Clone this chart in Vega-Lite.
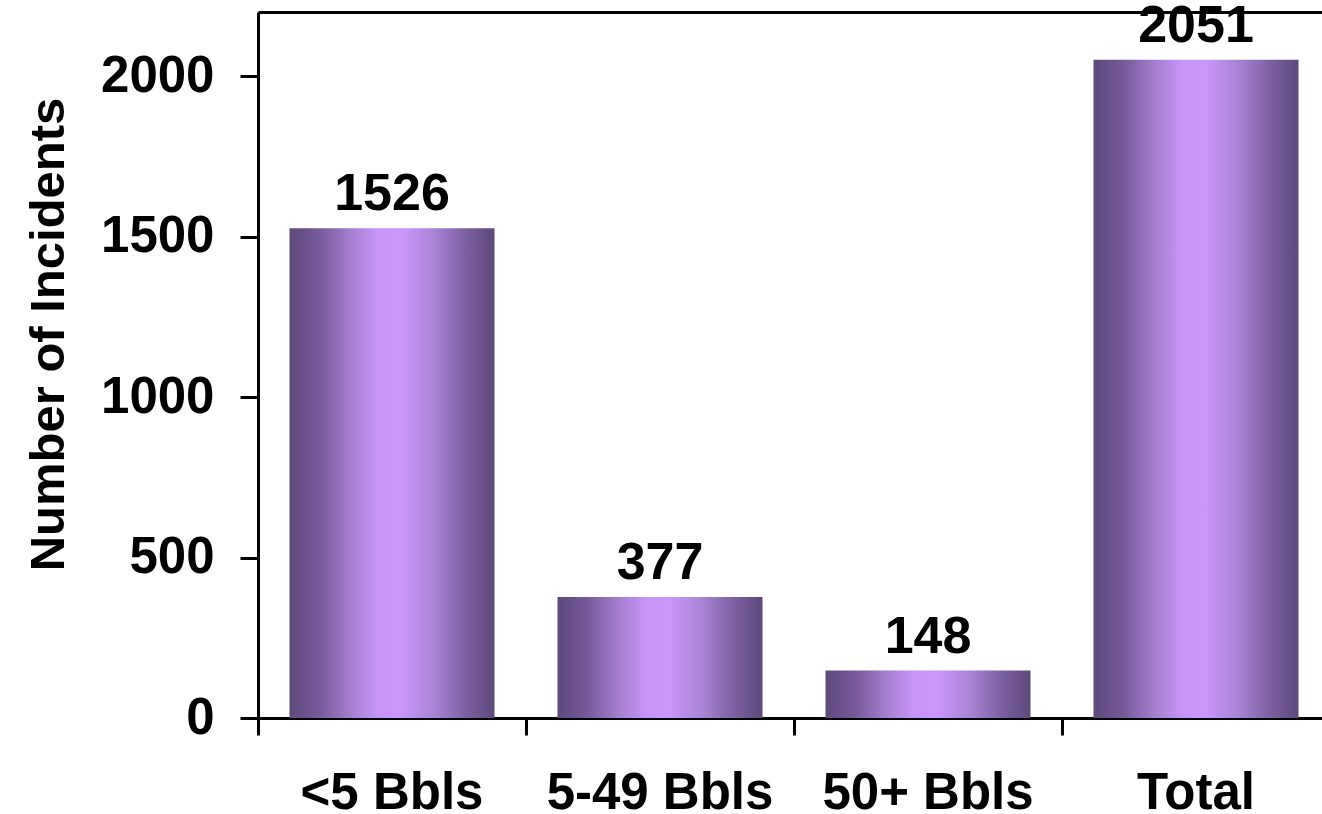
{
  "$schema": "https://vega.github.io/schema/vega-lite/v6.json",
  "autosize": {"type": "none"},
  "padding": {"left": 258, "top": 12, "right": 0, "bottom": 96},
  "width": 1064,
  "height": 706,
  "background": "white",
  "config": {
    "view": {"stroke": null},
    "font": "Liberation Sans",
    "axis": {"labelFont": "Liberation Sans", "titleFont": "Liberation Sans"}
  },
  "data": {
    "values": [
      {"category": "<5 Bbls", "incidents": 1526},
      {"category": "5-49 Bbls", "incidents": 377},
      {"category": "50+ Bbls", "incidents": 148},
      {"category": "Total", "incidents": 2051}
    ]
  },
  "encoding": {
    "x": {
      "field": "category",
      "type": "nominal",
      "sort": null,
      "scale": {"range": [0, 1072], "paddingInner": 0, "paddingOuter": 0}
    },
    "y": {
      "field": "incidents",
      "type": "quantitative",
      "scale": {"domain": [0, 2200], "nice": false, "zero": true},
      "axis": {
        "values": [0, 500, 1000, 1500, 2000],
        "format": "d",
        "grid": false,
        "domainColor": "black",
        "domainWidth": 3,
        "tickColor": "black",
        "tickWidth": 3,
        "tickSize": 18,
        "labelFontSize": 51,
        "labelFontWeight": "bold",
        "labelColor": "black",
        "labelPadding": 26,
        "title": "Number of Incidents",
        "titleFontSize": 49,
        "titleFontWeight": "bold",
        "titleColor": "black",
        "titleBaseline": "alphabetic",
        "titleAngle": -90,
        "titleX": -195,
        "titleY": 322,
        "titleAlign": "center"
      }
    }
  },
  "layer": [
    {
      "mark": {
        "type": "bar",
        "width": {"band": 0.765},
        "color": {
          "gradient": "linear",
          "x1": 0, "x2": 1, "y1": 0, "y2": 0,
          "stops": [
            {"offset": 0, "color": "#5d497b"},
            {"offset": 0.15, "color": "#775b9c"},
            {"offset": 0.3, "color": "#a47fd0"},
            {"offset": 0.43, "color": "#c795f8"},
            {"offset": 0.55, "color": "#c996fa"},
            {"offset": 0.7, "color": "#a985d8"},
            {"offset": 0.86, "color": "#7b60a1"},
            {"offset": 1, "color": "#5d497b"}
          ]
        }
      },
      "encoding": {
        "x": {
          "field": "category",
          "type": "nominal",
          "sort": null,
          "axis": {
            "orient": "bottom",
            "bandPosition": 0,
            "domainColor": "black",
            "domainWidth": 3,
            "tickColor": "black",
            "tickWidth": 3,
            "tickSize": 17,
            "labelAngle": 0,
            "labelFontSize": 51,
            "labelFontWeight": "bold",
            "labelColor": "black",
            "labelBaseline": "alphabetic",
            "labelPadding": 73,
            "labelAlign": "center",
            "labelLimit": 0,
            "labelBound": false,
            "labelOverlap": false,
            "title": null
          }
        }
      }
    },
    {
      "mark": {
        "type": "text",
        "fontSize": 52,
        "fontWeight": "bold",
        "color": "black",
        "baseline": "alphabetic",
        "dy": -18
      },
      "encoding": {
        "x": {
          "field": "category",
          "type": "nominal",
          "sort": null,
          "axis": {
            "orient": "top",
            "labels": false,
            "ticks": false,
            "domainColor": "black",
            "domainWidth": 3,
            "title": null
          }
        },
        "text": {"field": "incidents", "type": "quantitative"}
      }
    }
  ],
  "resolve": {"axis": {"x": "independent"}}
}
